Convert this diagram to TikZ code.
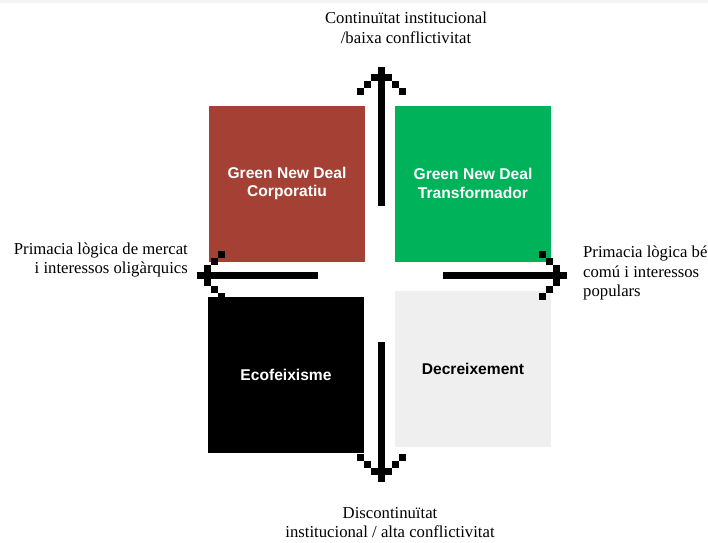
\documentclass[tikz,border=0pt]{standalone}
\usepackage{fontspec}
\setmainfont{Liberation Serif}
\newfontfamily\quadfont{Liberation Sans}
\usepackage{xcolor}
\usepackage{tikz}
\definecolor{corp_red}{HTML}{A44134}
\definecolor{trans_green}{HTML}{00B25A}
\definecolor{decr_grey}{HTML}{EFEFEF}

\begin{document}
\begin{tikzpicture}[
    x=1pt, y=-1pt,
    quad_box/.style={rectangle, minimum width=156pt, minimum height=156pt, inner sep=0pt,
      align=center, text=white, font=\quadfont\bfseries\fontsize{15.6}{18.5}\selectfont},
    axis_label/.style={inner sep=0pt, font=\fontsize{16.7}{19.5}\selectfont},
    axis_stem/.style={line width=7pt},
    pix_head/.pic={
      \fill (-14,-10.5) rectangle (-7,10.5);
      \fill (-21,-17.5) rectangle (-14,-10.5);
      \fill (-21,10.5) rectangle (-14,17.5);
      \fill (-28,-24.5) rectangle (-21,-17.5);
      \fill (-28,17.5) rectangle (-21,24.5);
    }
  ]
    \useasboundingbox (0,0) rectangle (708,542);
    \fill[black!4] (0,0) rectangle (708,3);

    \node[quad_box, fill=corp_red] (corp) at (287,183.5) {Green New Deal\\Corporatiu};
    \node[quad_box, fill=trans_green] (trans) at (473,183.5) {Green New Deal\\Transformador};
    \node[quad_box, fill=black] (ecof) at (286,374.5) {Ecofeixisme};
    \node[quad_box, fill=decr_grey, text=black] (decr) at (473,368.5) {Decreixement};

    \coordinate (up_start) at (381,206);
    \coordinate (up_tip) at (381,67);
    \coordinate (down_start) at (381,342);
    \coordinate (down_tip) at (381,482);
    \coordinate (left_start) at (318,275);
    \coordinate (left_tip) at (197,275);
    \coordinate (right_start) at (443,275);
    \coordinate (right_tip) at (567,275);

    \draw[axis_stem] (up_start) -- (up_tip);
    \draw[axis_stem] (down_start) -- (down_tip);
    \draw[axis_stem] (left_start) -- (left_tip);
    \draw[axis_stem] (right_start) -- (right_tip);
    \pic[rotate=90] at (up_tip) {pix_head};
    \pic[rotate=-90] at (down_tip) {pix_head};
    \pic[rotate=180] at (left_tip) {pix_head};
    \pic at (right_tip) {pix_head};

    \node[axis_label, align=center] (top_lbl) at (406,28) {Continuïtat institucional\\/baixa conflictivitat};
    \node[axis_label, align=center] (bottom_lbl) at (390,522.5) {Discontinuïtat\\institucional / alta conflictivitat};
    \node[axis_label, align=right, anchor=east] (left_lbl) at (188,260) {Primacia lògica de mercat\\i interessos oligàrquics};
    \node[axis_label, align=left, anchor=west] (right_lbl) at (583,273) {Primacia lògica bé\\comú i interessos\\populars};
  \end{tikzpicture}
\end{document}
